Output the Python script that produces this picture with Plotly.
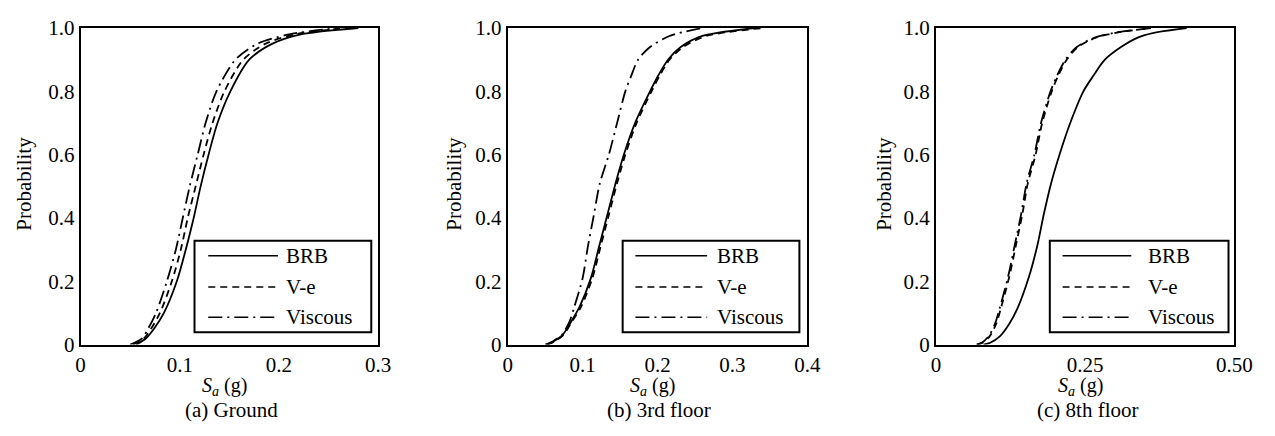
import plotly.graph_objects as go

# ---------------- data ----------------
SERIES = ["BRB", "V-e", "Viscous"]

# (a) Ground
PROB_A = [0, 0.02, 0.05, 0.1, 0.2, 0.3, 0.4, 0.5, 0.6, 0.7, 0.8, 0.9, 0.95, 0.98, 1.0]
SA_A_BRB = [0.056, 0.066, 0.074, 0.084, 0.097, 0.106, 0.114, 0.121, 0.129, 0.138, 0.151, 0.170, 0.193, 0.222, 0.28]
SA_A_VE = [0.053, 0.064, 0.071, 0.080, 0.092, 0.101, 0.108, 0.116, 0.124, 0.133, 0.145, 0.164, 0.186, 0.216, 0.27]
SA_A_VISC = [0.050, 0.062, 0.068, 0.076, 0.087, 0.096, 0.103, 0.110, 0.118, 0.126, 0.137, 0.156, 0.178, 0.210, 0.26]

# (b) 3rd floor
PROB_B = [0, 0.01, 0.03, 0.07, 0.12, 0.21, 0.31, 0.41, 0.51, 0.60, 0.70, 0.80, 0.85, 0.90, 0.94, 0.975, 1.0]
SA_B_BRB = [0.052, 0.061, 0.073, 0.084, 0.096, 0.111, 0.122, 0.133, 0.144, 0.155, 0.170, 0.190, 0.201, 0.214, 0.231, 0.260, 0.33]
SA_B_VE = [0.053, 0.062, 0.074, 0.085, 0.098, 0.113, 0.124, 0.135, 0.146, 0.157, 0.172, 0.192, 0.203, 0.216, 0.234, 0.265, 0.34]
SA_B_VISC = [0.050, 0.060, 0.072, 0.082, 0.089, 0.100, 0.107, 0.115, 0.123, 0.135, 0.146, 0.157, 0.165, 0.174, 0.190, 0.216, 0.26]

# (c) 8th floor
PROB_C = [0, 0.006, 0.026, 0.066, 0.116, 0.215, 0.314, 0.414, 0.51, 0.60, 0.70, 0.80, 0.85, 0.90, 0.94, 0.97, 0.985, 1.0]
SA_C_BRB = [0.080, 0.091, 0.107, 0.123, 0.137, 0.156, 0.170, 0.181, 0.193, 0.207, 0.225, 0.247, 0.264, 0.283, 0.310, 0.338, 0.365, 0.42]
SA_C_VE = [0.069, 0.078, 0.090, 0.101, 0.109, 0.123, 0.134, 0.145, 0.154, 0.167, 0.178, 0.194, 0.205, 0.219, 0.238, 0.268, 0.301, 0.36]
SA_C_VISC = [0.068, 0.077, 0.088, 0.099, 0.107, 0.121, 0.132, 0.143, 0.152, 0.165, 0.176, 0.192, 0.203, 0.217, 0.236, 0.266, 0.299, 0.36]

X_TICKS_A = [0, 0.1, 0.2, 0.3]
X_TICKTEXT_A = ["0", "0.1", "0.2", "0.3"]
X_TICKS_B = [0, 0.1, 0.2, 0.3, 0.4]
X_TICKTEXT_B = ["0", "0.1", "0.2", "0.3", "0.4"]
X_TICKS_C = [0, 0.25, 0.5]
X_TICKTEXT_C = ["0", "0.25", "0.50"]
Y_TICKS = [0, 0.2, 0.4, 0.6, 0.8, 1.0]
Y_TICKTEXT = ["0", "0.2", "0.4", "0.6", "0.8", "1.0"]

CAPTIONS = ["(a) Ground", "(b) 3rd floor", "(c) 8th floor"]

# ---------------- styling / layout ----------------
W, H = 1275, 436
FONT = "Liberation Serif"
FS = 21
DASHES = {"BRB": "solid", "V-e": "7px,5px", "Viscous": "14px,5px,2px,5px"}


def px(x):
    return x / W


def py(y):
    return 1 - y / H


panels = [
    dict(data=[(PROB_A, SA_A_BRB), (PROB_A, SA_A_VE), (PROB_A, SA_A_VISC)],
         left=77, right=380, xr=[0, 0.3], tv=X_TICKS_A, tt=X_TICKTEXT_A,
         ytitle_x=19, leg=(193, 373, 207, 278, 284)),
    dict(data=[(PROB_B, SA_B_BRB), (PROB_B, SA_B_VE), (PROB_B, SA_B_VISC)],
         left=512, right=817, xr=[0, 0.4], tv=X_TICKS_B, tt=X_TICKTEXT_B,
         ytitle_x=457, leg=(629, 809, 642, 715, 723)),
    dict(data=[(PROB_C, SA_C_BRB), (PROB_C, SA_C_VE), (PROB_C, SA_C_VISC)],
         left=948, right=1252, xr=[0, 0.5], tv=X_TICKS_C, tt=X_TICKTEXT_C,
         ytitle_x=895, leg=(1064, 1246, 1077, 1147, 1162)),
]
TOP, BOTTOM = 17, 352

fig = go.Figure()
layout = dict(width=W, height=H, margin=dict(l=0, r=0, t=0, b=0),
              paper_bgcolor="white", plot_bgcolor="white", showlegend=False,
              font=dict(family=FONT, size=FS, color="black"))
shapes, annotations = [], []

for i, p in enumerate(panels):
    n = "" if i == 0 else str(i + 1)
    xa, ya = "x" + n, "y" + n
    for name, (prob, sa) in zip(SERIES, p["data"]):
        fig.add_trace(go.Scatter(
            x=sa, y=prob, mode="lines", name=name, xaxis=xa, yaxis=ya,
            line=dict(color="black", width=1.8, dash=DASHES[name],
                      shape="spline", smoothing=0.8)))
    layout["xaxis" + n] = dict(
        domain=[px(p["left"]), px(p["right"])], anchor=ya, range=p["xr"],
        tickvals=p["tv"], ticktext=p["tt"], showgrid=False, zeroline=False,
        showline=True, mirror=True, linecolor="black", linewidth=2,
        ticks="", tickfont=dict(family=FONT, size=FS))
    layout["yaxis" + n] = dict(
        domain=[py(BOTTOM), py(TOP)], anchor=xa, range=[0, 1],
        tickvals=Y_TICKS, ticktext=Y_TICKTEXT, showgrid=False, zeroline=False,
        showline=True, mirror=True, linecolor="black", linewidth=2,
        ticks="", tickfont=dict(family=FONT, size=FS))

    cx = (p["left"] + p["right"]) / 2
    annotations.append(dict(text="<i>S</i><sub><i>a</i></sub> (g)", x=px(cx - 5), y=py(381),
                            xref="paper", yref="paper", showarrow=False,
                            xanchor="center", yanchor="top",
                            font=dict(family=FONT, size=20)))
    annotations.append(dict(text=CAPTIONS[i], x=px(cx + 2), y=py(436),
                            xref="paper", yref="paper", showarrow=False,
                            xanchor="center", yanchor="bottom",
                            font=dict(family=FONT, size=FS)))
    annotations.append(dict(text="Probability", x=px(p["ytitle_x"]), y=py(182),
                            xref="paper", yref="paper", showarrow=False,
                            textangle=-90, xanchor="center", yanchor="middle",
                            font=dict(family=FONT, size=FS)))

    # legend box
    bx0, bx1, lx0, lx1, tx = p["leg"]
    shapes.append(dict(type="rect", xref="paper", yref="paper",
                       x0=px(bx0), x1=px(bx1), y0=py(339), y1=py(242),
                       line=dict(color="black", width=2), fillcolor="white"))
    for name, ry in zip(SERIES, [258, 291, 323]):
        shapes.append(dict(type="line", xref="paper", yref="paper",
                           x0=px(lx0), x1=px(lx1), y0=py(ry), y1=py(ry),
                           line=dict(color="black", width=1.4, dash=DASHES[name])))
        annotations.append(dict(text=name, x=px(tx), y=py(ry), xref="paper", yref="paper",
                                showarrow=False, xanchor="left", yanchor="middle",
                                font=dict(family=FONT, size=FS)))

layout["shapes"] = shapes
layout["annotations"] = annotations
fig.update_layout(**layout)
fig.write_html("out.html")
